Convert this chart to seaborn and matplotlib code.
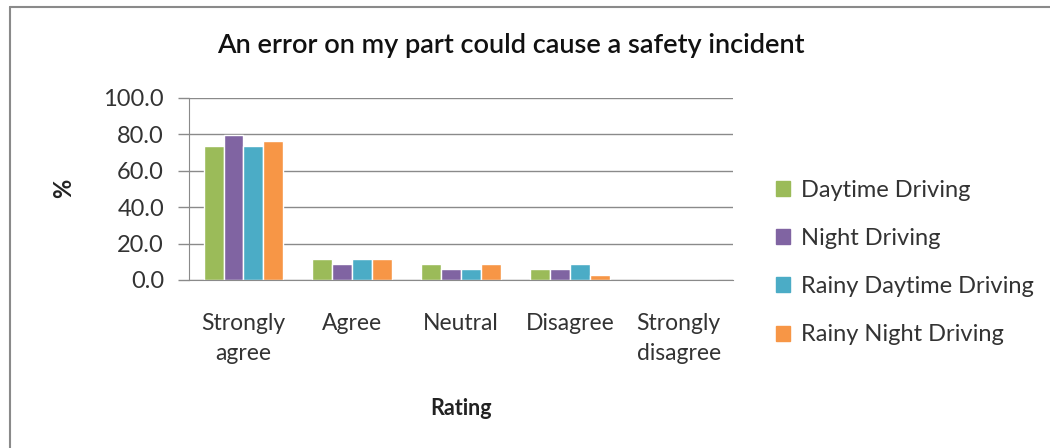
import matplotlib
matplotlib.use("Agg")
import matplotlib.pyplot as plt
import matplotlib.patches as mpatches
import matplotlib.lines as mlines
import seaborn as sns
import pandas as pd

categories = ["Strongly\nagree", "Agree", "Neutral", "Disagree", "Strongly\ndisagree"]
series = ["Daytime Driving", "Night Driving", "Rainy Daytime Driving", "Rainy Night Driving"]
daytime = [73.5, 11.8, 8.8, 5.9, 0.0]
night = [79.4, 8.8, 5.9, 5.9, 0.0]
rainy_day = [73.5, 11.8, 5.9, 8.8, 0.0]
rainy_night = [76.5, 11.8, 8.8, 2.9, 0.0]
colors = ["#9BBB59", "#8064A2", "#4BACC6", "#F79646"]
yticks = [0, 20, 40, 60, 80, 100]

rows = []
for s, vals in zip(series, [daytime, night, rainy_day, rainy_night]):
    for c, v in zip(categories, vals):
        rows.append({"Rating": c, "Series": s, "Value": v})
df = pd.DataFrame(rows)

sns.set_style("white")
plt.rcParams["font.family"] = ["Lato", "DejaVu Sans"]

fig = plt.figure(figsize=(10.5, 4.48), dpi=100)
ax = fig.add_axes([189 / 1050, 1 - 280 / 448, (733 - 189) / 1050, (280 - 98) / 448])

sns.barplot(data=df, x="Rating", y="Value", hue="Series", palette=colors,
            order=categories, hue_order=series, width=0.73, gap=0,
            saturation=1, ax=ax, legend=False)

ax.set_xlim(-0.5, 4.5)
ax.set_ylim(0, 100)
ax.set_yticks(yticks)
ax.set_yticklabels([f"{t:.1f}" for t in yticks], fontsize=17, color="#333333")
ax.yaxis.grid(True, color="#8a8a8a", linewidth=1)
ax.set_axisbelow(True)
for sp in ["top", "right"]:
    ax.spines[sp].set_visible(False)
ax.spines["left"].set_color("#8a8a8a")
ax.spines["bottom"].set_color("#8a8a8a")
ax.tick_params(axis="y", direction="out", length=8, color="#8a8a8a", width=1, pad=10, left=True)
ax.tick_params(axis="x", length=0, pad=24, labelsize=16.5, labelcolor="#333333")
for lbl in ax.get_xticklabels():
    lbl.set_linespacing(1.5)
ax.set_xlabel("")
ax.set_ylabel("")

fig.text(511 / 1050, 1 - 45 / 448, "An error on my part could cause a safety incident",
         ha="center", va="center", fontsize=19.5, fontweight="semibold", color="#111111")
fig.text(461 / 1050, 1 - 408 / 448, "Rating", ha="center", va="center",
         fontsize=15.5, fontweight="bold", color="#222222")
fig.text(64 / 1050, 1 - 188 / 448, "%", ha="center", va="center",
         fontsize=17, fontweight="bold", rotation=90, color="#222222")

handles = [mpatches.Patch(color=c, label=s) for c, s in zip(colors, series)]
fig.legend(handles=handles, loc="upper left", bbox_to_anchor=(776 / 1050, 1 - 180 / 448),
           frameon=False, fontsize=17, handlelength=0.6, handleheight=0.6,
           handletextpad=0.45, labelspacing=1.15, labelcolor="#333333",
           borderpad=0, borderaxespad=0)

# chart frame: only top and left edges are visible in the cropped image
fig.lines.append(mlines.Line2D([10 / 1050, 10 / 1050], [0, 1 - 7 / 448],
                               transform=fig.transFigure, color="#8a8a8a", linewidth=1.5))
fig.lines.append(mlines.Line2D([10 / 1050, 1], [1 - 7 / 448, 1 - 7 / 448],
                               transform=fig.transFigure, color="#8a8a8a", linewidth=1.5))

fig.savefig("out.png", dpi=100)
